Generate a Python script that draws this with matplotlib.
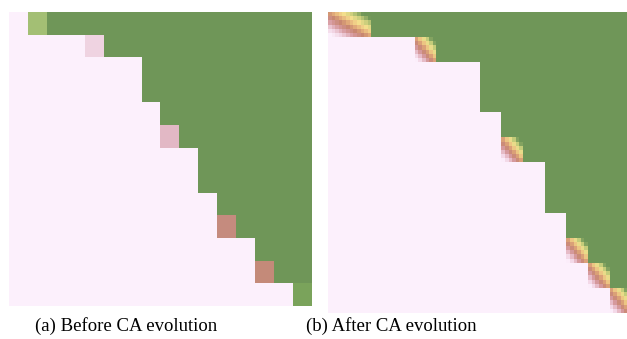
import numpy as np
import matplotlib
matplotlib.use("Agg")
import matplotlib.pyplot as plt

# ---------------- data ----------------
# Panel (a): 13 rows x 16 cols; number of background (pink) cells per row
rows_a = 13
cols_a = 16
pink_cols_a = [1, 4, 7, 7, 8, 8, 10, 10, 11, 11, 13, 13, 15]
# boundary cells (row, col, colour)
edge_rows_a = [0, 1, 5, 9, 11, 12]
edge_cols_a = [1, 4, 8, 11, 13, 15]
edge_colors_a = ["#a3bf74", "#efd3e1", "#e2b8c5", "#c58b7e", "#c48a79", "#7aa35b"]

# Panel (b): 12 rows x ~13.8 visible cols, boundary cells smoothed
rows_b = 12
cols_b = 14
pink_cols_b = [0, 4, 7, 7, 8, 8, 10, 10, 11, 11, 12, 13]
trans_rows_b = [0, 1, 5, 9, 10, 11]
trans_c0_b = [0, 4, 8, 11, 12, 13]
trans_c1_b = [2, 5, 9, 12, 13, 14]

captions = ["(a) Before CA evolution", "(b) After CA evolution"]

PINK = np.array([252, 240, 252]) / 255
GREEN = np.array([111, 150, 88]) / 255

def hex2rgb(h):
    h = h.lstrip("#")
    return np.array([int(h[i:i + 2], 16) for i in (0, 2, 4)]) / 255

# ---------------- panel (a) image ----------------
img_a = np.zeros((rows_a, cols_a, 3))
for r in range(rows_a):
    for c in range(cols_a):
        img_a[r, c] = PINK if c < pink_cols_a[r] else GREEN
for r, c, col in zip(edge_rows_a, edge_cols_a, edge_colors_a):
    img_a[r, c] = hex2rgb(col)

# ---------------- panel (b) image ----------------
S = 6
stops_d = [-0.85, -0.6, -0.35, -0.12, 0.08, 0.28, 0.5, 0.72]
stops_c = [PINK,
           np.array([240, 210, 225]) / 255,
           np.array([215, 155, 160]) / 255,
           np.array([200, 135, 112]) / 255,
           np.array([230, 178, 124]) / 255,
           np.array([246, 224, 142]) / 255,
           np.array([196, 204, 122]) / 255,
           GREEN]
stops_c = np.array(stops_c)

def ramp(d):
    return np.array([np.interp(d, stops_d, stops_c[:, k]) for k in range(3)])

img_b = np.zeros((rows_b * S, cols_b * S, 3))
trans = {r: (c0, c1) for r, c0, c1 in zip(trans_rows_b, trans_c0_b, trans_c1_b)}
for i in range(rows_b * S):
    r = i // S
    for j in range(cols_b * S):
        c = j // S
        if r in trans and trans[r][0] <= c < trans[r][1]:
            c0, c1 = trans[r]
            u = ((j + 0.5) / S - c0) / (c1 - c0)
            v = (i + 0.5) / S - r
            img_b[i, j] = ramp(u - v)
        elif c < pink_cols_b[r]:
            img_b[i, j] = PINK
        else:
            img_b[i, j] = GREEN

# ---------------- figure ----------------
W, H = 627, 339
fig = plt.figure(figsize=(W / 100, H / 100), dpi=100)

ax_a = fig.add_axes([9 / W, 1 - 306 / H, 303 / W, 294 / H])
ax_a.imshow(img_a, extent=(0, cols_a, rows_a, 0), aspect="auto",
            interpolation="nearest")
ax_a.set_xlim(0, cols_a)
ax_a.set_ylim(rows_a, 0)
ax_a.axis("off")

ax_b = fig.add_axes([328.3 / W, 1 - 313 / H, 298.7 / W, 301 / H])
ax_b.imshow(img_b, extent=(0, cols_b, rows_b, 0), aspect="auto",
            interpolation="nearest")
ax_b.set_xlim(0, 298.7 / 21.65)
ax_b.set_ylim(rows_b, 0)
ax_b.axis("off")

fig.text(126.5 / W, 1 - 326 / H, captions[0], ha="center", va="center",
         family="Liberation Serif", fontsize=13.5, color="black")
fig.text(391.5 / W, 1 - 326 / H, captions[1], ha="center", va="center",
         family="Liberation Serif", fontsize=13.5, color="black")

fig.savefig("out.png", dpi=100)
